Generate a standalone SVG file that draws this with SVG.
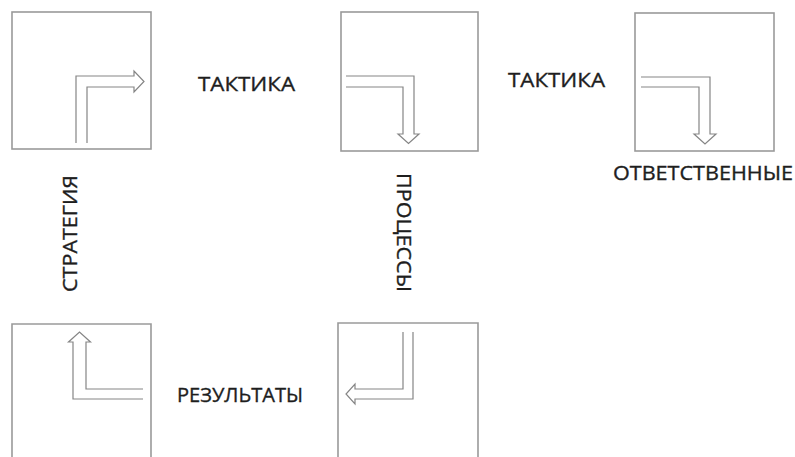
<svg xmlns="http://www.w3.org/2000/svg" width="795" height="457" viewBox="0 0 795 457">
<style>
.box{fill:none;stroke:#9a9a9a;stroke-width:1.6}
.arr{fill:none;stroke:#858585;stroke-width:1.2;stroke-linejoin:miter}
.lbl{font-family:"Open Sans","Liberation Sans",sans-serif;font-size:20px;fill:#1e1e1e;stroke:#1e1e1e;stroke-width:0.35}
</style>
<rect width="795" height="457" fill="#fff"/>
<g id="box-strategy">
<rect class="box" x="12" y="12" width="139" height="137"/>
<path class="arr" d="M76,143 V76 H134 V71 L144,81.5 L134,92 V87 H87 V143"/>
</g>
<g id="box-processes">
<rect class="box" x="341" y="12" width="137" height="139"/>
<path class="arr" d="M346,76 H414 V134 H419 L408.5,143.5 L398,134 H403 V87 H346"/>
</g>
<g id="box-responsible">
<rect class="box" x="635" y="13" width="139" height="138"/>
<path class="arr" d="M641,77 H710 V134 H716 L705,144 L694,134 H699 V87 H641"/>
</g>
<g id="box-results">
<path class="box" d="M12,460 V324 H151 V460"/>
<path class="arr" d="M143,399 H73 V342 H68.5 L79.5,332 L90.5,342 H86 V389 H143"/>
</g>
<g id="box-bottom-mid">
<path class="box" d="M338,460 V323 H478 V460"/>
<path class="arr" d="M403,332 V389 H355 V384 L346,394 L355,404 V399 H413 V332"/>
</g>
<g id="connectors"></g>
<g id="labels">
<text class="lbl" x="198" y="91" textLength="97" lengthAdjust="spacingAndGlyphs">ТАКТИКА</text>
<text class="lbl" x="508" y="87" textLength="97" lengthAdjust="spacingAndGlyphs">ТАКТИКА</text>
<text class="lbl" x="613" y="180" textLength="180" lengthAdjust="spacingAndGlyphs">ОТВЕТСТВЕННЫЕ</text>
<text class="lbl" x="177" y="402" textLength="126" lengthAdjust="spacingAndGlyphs">РЕЗУЛЬТАТЫ</text>
<text class="lbl" transform="translate(77,292) rotate(-90)" textLength="117" lengthAdjust="spacingAndGlyphs">СТРАТЕГИЯ</text>
<text class="lbl" transform="translate(397,173) rotate(90)" textLength="119" lengthAdjust="spacingAndGlyphs">ПРОЦЕССЫ</text>
</g>
</svg>
